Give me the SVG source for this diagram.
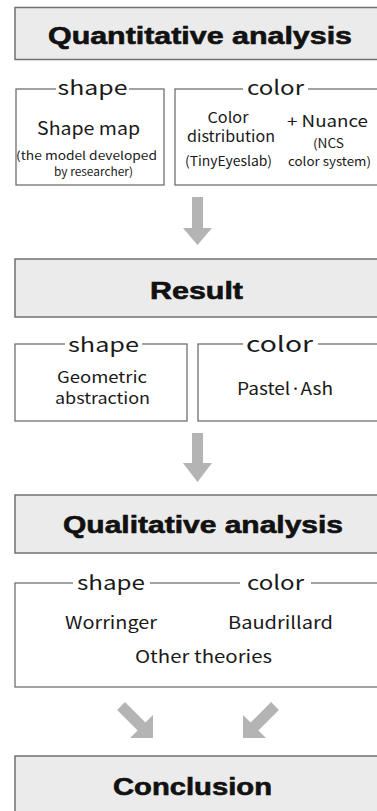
<svg xmlns="http://www.w3.org/2000/svg" width="377" height="811" viewBox="0 0 377 811">
<style>
.hdr{fill:#ebebeb;stroke:#707070;stroke-width:1.5}
.box{fill:#fff;stroke:#707070;stroke-width:1.3}
.gap{fill:#fff;stroke:none}
.ht{font-family:"Liberation Sans",Arial,sans-serif;font-weight:bold;font-size:24px;fill:#111;stroke:#111;stroke-width:0.6;text-anchor:middle}
.t{font-family:"Noto Sans CJK KR","Noto Sans",sans-serif;fill:#1a1a1a;text-anchor:middle}
.arr{fill:#b4b4b4}
</style>
<rect width="377" height="811" fill="#fff"/>
<g id="quant">
<rect class="hdr" x="15" y="7.5" width="400" height="52"/>
<text class="ht" x="200" y="44" textLength="304" lengthAdjust="spacingAndGlyphs">Quantitative analysis</text>
</g>
<g id="quant-shape">
<rect class="box" x="16" y="89" width="148" height="96"/>
<rect class="gap" x="56" y="85" width="73" height="8"/>
<text class="t" x="92.5" y="95" font-size="20" textLength="70" lengthAdjust="spacingAndGlyphs">shape</text>
<text class="t" x="88.5" y="135" font-size="18" textLength="103" lengthAdjust="spacingAndGlyphs">Shape map</text>
<text class="t" x="86.5" y="160" font-size="11.5" textLength="141" lengthAdjust="spacingAndGlyphs">(the model developed</text>
<text class="t" x="93.5" y="176" font-size="11.5" textLength="79" lengthAdjust="spacingAndGlyphs">by researcher)</text>
</g>
<g id="quant-color">
<rect class="box" x="175" y="89" width="240" height="96"/>
<rect class="gap" x="243" y="85" width="65" height="8"/>
<text class="t" x="275.5" y="95" font-size="20" textLength="57" lengthAdjust="spacingAndGlyphs">color</text>
<text class="t" x="228" y="123" font-size="15" textLength="41" lengthAdjust="spacingAndGlyphs">Color</text>
<text class="t" x="231" y="142" font-size="15" textLength="88" lengthAdjust="spacingAndGlyphs">distribution</text>
<text class="t" x="228.5" y="166" font-size="13.5" textLength="87" lengthAdjust="spacingAndGlyphs">(TinyEyeslab)</text>
<text class="t" x="327.5" y="127" font-size="16" textLength="81" lengthAdjust="spacingAndGlyphs">+ Nuance</text>
<text class="t" x="328.5" y="148" font-size="12.5" textLength="31" lengthAdjust="spacingAndGlyphs">(NCS</text>
<text class="t" x="329.5" y="166" font-size="12.5" textLength="83" lengthAdjust="spacingAndGlyphs">color system)</text>
</g>
<g id="result">
<rect class="hdr" x="15" y="259" width="400" height="58"/>
<text class="ht" x="196.5" y="299" textLength="93" lengthAdjust="spacingAndGlyphs">Result</text>
</g>
<g id="result-shape">
<rect class="box" x="15" y="344" width="172" height="77"/>
<rect class="gap" x="65" y="340" width="77" height="8"/>
<text class="t" x="103.5" y="352" font-size="20" textLength="71" lengthAdjust="spacingAndGlyphs">shape</text>
<text class="t" x="102" y="383" font-size="15.5" textLength="90" lengthAdjust="spacingAndGlyphs">Geometric</text>
<text class="t" x="102.5" y="404" font-size="15.5" textLength="95" lengthAdjust="spacingAndGlyphs">abstraction</text>
</g>
<g id="result-color">
<rect class="box" x="198" y="344" width="217" height="77"/>
<rect class="gap" x="243" y="340" width="75" height="8"/>
<text class="t" x="279.5" y="352" font-size="21" textLength="67" lengthAdjust="spacingAndGlyphs">color</text>
<text class="t" x="285" y="395" font-size="17" textLength="96" lengthAdjust="spacingAndGlyphs">Pastel·Ash</text>
</g>
<g id="qual">
<rect class="hdr" x="15" y="495" width="400" height="58"/>
<text class="ht" x="203" y="533" textLength="280" lengthAdjust="spacingAndGlyphs">Qualitative analysis</text>
</g>
<g id="qual-theories">
<rect class="box" x="15" y="583" width="400" height="104"/>
<rect class="gap" x="73" y="579" width="77" height="8"/>
<rect class="gap" x="240" y="579" width="71" height="8"/>
<text class="t" x="111" y="590" font-size="20" textLength="68" lengthAdjust="spacingAndGlyphs">shape</text>
<text class="t" x="275.5" y="590" font-size="20" textLength="57" lengthAdjust="spacingAndGlyphs">color</text>
<text class="t" x="111" y="629" font-size="17" textLength="92" lengthAdjust="spacingAndGlyphs">Worringer</text>
<text class="t" x="280.5" y="629" font-size="17" textLength="105" lengthAdjust="spacingAndGlyphs">Baudrillard</text>
<text class="t" x="203.5" y="663" font-size="17" textLength="137" lengthAdjust="spacingAndGlyphs">Other theories</text>
</g>
<g id="conclusion">
<rect class="hdr" x="15" y="756" width="400" height="80"/>
<text class="ht" x="192.5" y="795" textLength="159" lengthAdjust="spacingAndGlyphs">Conclusion</text>
</g>
<g id="connectors">
<polygon class="arr" points="192,197 203,197 203,228 212,228 197.5,245 183,228 192,228"/>
<polygon class="arr" points="192,433 203,433 203,463 212,463 197.5,482 183,463 192,463"/>
<polygon class="arr" points="124.9,702.1 145.4,722.6 153,715 153,738 130,738 137.6,730.4 117.1,709.9"/>
<polygon class="arr" points="271.1,702.1 250.6,722.6 243,715 243,738 266,738 258.4,730.4 278.9,709.9"/>
</g>
</svg>
